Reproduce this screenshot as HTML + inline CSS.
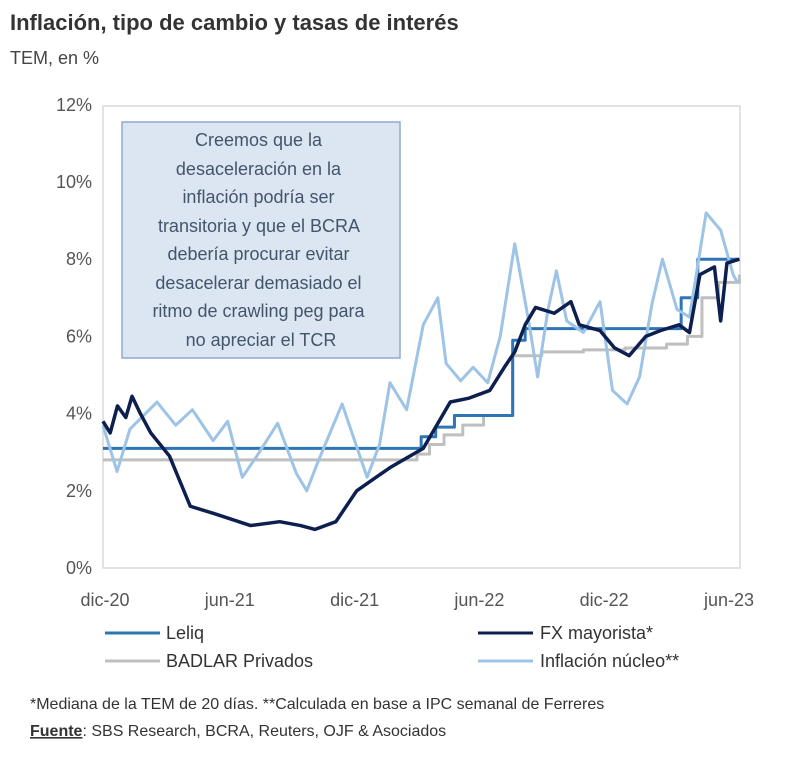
<!DOCTYPE html>
<html><head><meta charset="utf-8"><style>
body{margin:0;background:#fff;width:800px;height:763px;overflow:hidden;font-family:"Liberation Sans",sans-serif;}
</style></head><body>
<svg width="800" height="763" viewBox="0 0 800 763" font-family="Liberation Sans, sans-serif">
<text x="10" y="30" font-size="22" font-weight="bold" fill="#333">Inflación, tipo de cambio y tasas de interés</text>
<text x="10" y="64" font-size="18" fill="#444">TEM, en %</text>
<rect x="103" y="106" width="637" height="462" fill="none" stroke="#d9d9d9" stroke-width="1.5"/>
<g id="yticks"></g><g id="xticks"></g><g id="series"></g>
<g>
<rect x="122" y="122" width="278" height="236" fill="#dce6f2" stroke="#8eaad0" stroke-width="1.5"/>
<text font-size="18" fill="#44546a" text-anchor="middle">
<tspan x="261" y="146">Creemos que la</tspan>
<tspan x="261" y="175">desaceleración en la</tspan>
<tspan x="261" y="203">inflación podría ser</tspan>
<tspan x="261" y="232">transitoria y que el BCRA</tspan>
<tspan x="261" y="260">debería procurar evitar</tspan>
<tspan x="261" y="289">desacelerar demasiado el</tspan>
<tspan x="261" y="317">ritmo de crawling peg para</tspan>
<tspan x="261" y="346">no apreciar el TCR</tspan>
</text></g>
<g font-size="18" fill="#333">
<line x1="105" y1="633" x2="160" y2="633" stroke="#2e75b6" stroke-width="3"/><text x="166" y="639">Leliq</text>
<line x1="478" y1="633" x2="533" y2="633" stroke="#0d1f4f" stroke-width="3"/><text x="540" y="639">FX mayorista*</text>
<line x1="105" y1="661" x2="160" y2="661" stroke="#bfbfbf" stroke-width="3"/><text x="166" y="667">BADLAR Privados</text>
<line x1="478" y1="661" x2="533" y2="661" stroke="#9dc3e6" stroke-width="3"/><text x="540" y="667">Inflación núcleo**</text>
</g>
<text x="30" y="709" font-size="16" fill="#333">*Mediana de la TEM de 20 días. **Calculada en base a IPC semanal de Ferreres</text>
<text x="30" y="736" font-size="16" fill="#333"><tspan font-weight="bold" text-decoration="underline">Fuente</tspan>: SBS Research, BCRA, Reuters, OJF &amp; Asociados</text>
</svg>
<script>
const yTicks=[0,2,4,6,8,10,12];
const xLabels=["dic-20","jun-21","dic-21","jun-22","dic-22","jun-23"];
const xLabelMonths=[0,6,12,18,24,30];
const tLeliq=[-0.1,15.2,15.9,16.8,19.6,20.2,27.7,28.5,30.5];
const vLeliq=[3.1,3.4,3.65,3.95,5.9,6.2,7.0,8.0,8.0];
const tBadlar=[-0.1,15.0,15.6,16.3,17.2,18.2,19.6,21,23,25,27,28,28.7,29.5,30.5];
const vBadlar=[2.8,2.95,3.2,3.45,3.7,3.95,5.5,5.6,5.65,5.7,5.8,6.0,7.0,7.4,7.6];
const tFx=[-0.1,0.25,0.6,1.0,1.3,1.7,2.2,3.1,4.1,5.3,7.0,8.4,9.4,10.1,11.1,12.1,13.7,15.3,16.6,17.5,18.5,19.2,19.7,20.2,20.7,21.6,22.4,22.8,23.8,24.5,25.2,26.0,26.7,27.6,28.1,28.6,29.3,29.6,29.9,30.5];
const vFx=[3.8,3.5,4.2,3.9,4.45,4.0,3.5,2.9,1.6,1.4,1.1,1.2,1.1,1.0,1.2,2.0,2.6,3.1,4.3,4.4,4.6,5.2,5.6,6.3,6.75,6.6,6.9,6.3,6.15,5.7,5.5,6.0,6.15,6.3,6.1,7.6,7.8,6.4,7.9,8.0];
const tInfl=[-0.1,0.58,1.2,2.5,3.4,4.2,5.2,5.9,6.6,7.3,8.3,9.2,9.7,10.2,11.4,12.6,13.2,13.7,14.5,15.3,16.0,16.4,17.1,17.7,18.4,19.0,19.7,20.4,20.8,21.3,21.7,22.2,23.0,23.8,24.4,25.1,25.7,26.3,26.8,27.5,28.1,28.9,29.6,30.2,30.4];
const vInfl=[3.7,2.5,3.6,4.3,3.7,4.1,3.3,3.8,2.35,2.9,3.75,2.45,2.0,2.7,4.25,2.35,3.2,4.8,4.1,6.3,7.0,5.3,4.85,5.2,4.8,6.0,8.4,6.3,4.95,6.7,7.7,6.4,6.1,6.9,4.6,4.25,4.95,6.85,8.0,6.7,6.5,9.2,8.75,7.6,7.4];
const NS="http://www.w3.org/2000/svg";
const X=t=>105+t*20.8;
const Y=v=>568-v*38.6;
const yg=document.getElementById('yticks');
yTicks.forEach(v=>{const t=document.createElementNS(NS,'text');


t.setAttribute('x',92);t.setAttribute('y',Y(v)+6);t.setAttribute('text-anchor','end');t.setAttribute('font-size','18');t.setAttribute('fill','#555');t.textContent=v+'%';yg.appendChild(t);});
const xg=document.getElementById('xticks');
xLabels.forEach((l,i)=>{const t=document.createElementNS(NS,'text');


t.setAttribute('x',X(xLabelMonths[i]));t.setAttribute('y',606);t.setAttribute('text-anchor','middle');t.setAttribute('font-size','18');t.setAttribute('fill','#555');t.textContent=l;xg.appendChild(t);});
const sg=document.getElementById('series');
function line(ts,vs,color,w,step,name){let d='';ts.forEach((t,i)=>{if(i===0)d+='M'+X(t)+' '+Y(vs[i]);else{if(step)d+=' L'+X(t)+' '+Y(vs[i-1]);d+=' L'+X(t)+' '+Y(vs[i]);}});
const p=document.createElementNS(NS,'path');


p.setAttribute('d',d);p.setAttribute('fill','none');p.setAttribute('stroke',color);p.setAttribute('stroke-width',w);p.setAttribute('stroke-linejoin','round');sg.appendChild(p);}
line(tBadlar,vBadlar,'#bfbfbf',3,true,'badlar-line');
line(tLeliq,vLeliq,'#2e75b6',3,true,'leliq-line');
line(tInfl,vInfl,'#9dc3e6',3,false,'inflacion-line');
line(tFx,vFx,'#0d1f4f',3.5,false,'fx-line');
</script>
</body></html>
